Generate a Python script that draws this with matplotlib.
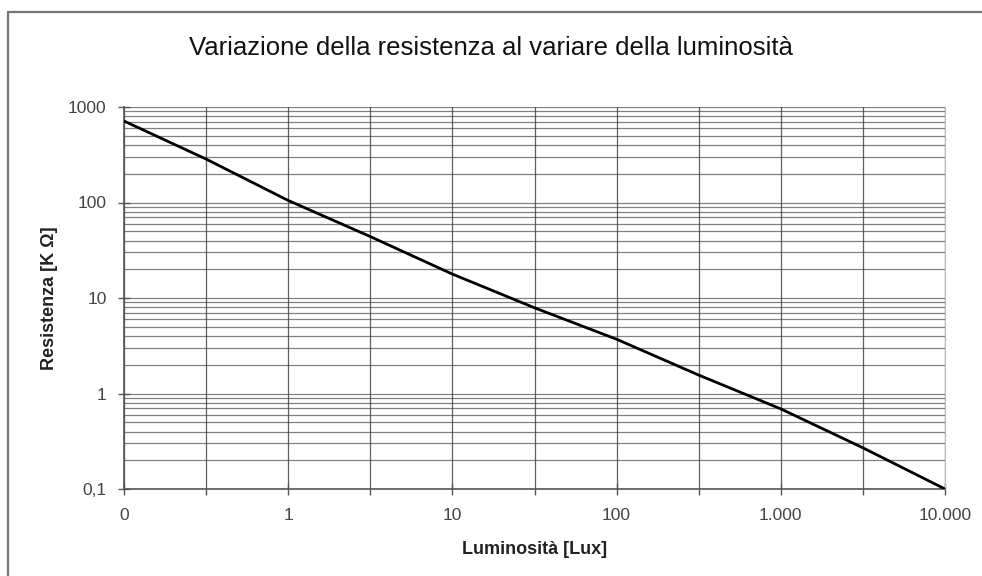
import matplotlib
matplotlib.use("Agg")
import matplotlib.pyplot as plt
from matplotlib.patches import Rectangle
from matplotlib.ticker import FixedLocator, NullFormatter

plt.rcParams["font.family"] = ["Liberation Sans", "DejaVu Sans"]

# luminosity [lux] and resistance [kOhm]
lux = [0.1, 0.316, 1, 3.16, 10, 31.6, 100, 316, 1000, 3162, 10000]
res = [713, 285, 105, 44, 17.8, 7.9, 3.7, 1.56, 0.69, 0.27, 0.1]

x_ticks = [0.1, 1, 10, 100, 1000, 10000]
x_labels = ["0", "1", "10", "100", "1.000", "10.000"]
y_ticks = [0.1, 1, 10, 100, 1000]
y_labels = ["0,1", "1", "10", "100", "1000"]

fig = plt.figure(figsize=(9.82, 5.76), dpi=100)
fig.patches.append(Rectangle((8 / 982, -0.1), 1.2, 1.1 - 12 / 576, transform=fig.transFigure,
                             fill=False, edgecolor="#777777", linewidth=1.6))

ax = fig.add_axes([124 / 982, 1 - 489 / 576, (945 - 124) / 982, (489 - 107) / 576])
ax.set_xscale("log")
ax.set_yscale("log")
ax.set_xlim(0.1, 10000)
ax.set_ylim(0.1, 1000)

# horizontal grid: every 1..9 x 10^k ; vertical grid: every half decade
hgrid = [m * 10.0 ** k for k in range(-1, 3) for m in range(1, 10)] + [1000]
vgrid = [10 ** (e / 2) for e in range(-2, 9)]
for yv in hgrid:
    ax.axhline(yv, color="#555555", lw=0.9, alpha=0.75, zorder=1)
for xv in vgrid:
    ax.axvline(xv, color="#444444", lw=0.9, alpha=0.85, zorder=1)

ax.plot(lux, res, color="black", lw=2.0, zorder=3)

ax.xaxis.set_major_locator(FixedLocator(x_ticks))
ax.xaxis.set_minor_locator(FixedLocator([v for v in vgrid if v not in x_ticks]))
ax.xaxis.set_minor_formatter(NullFormatter())
ax.set_xticklabels(x_labels)
ax.yaxis.set_major_locator(FixedLocator(y_ticks))
ax.yaxis.set_minor_locator(FixedLocator([]))
ax.yaxis.set_minor_formatter(NullFormatter())
ax.set_yticklabels(y_labels)
ax.tick_params(axis="both", which="major", direction="inout", length=9, width=1,
               color="#555555", labelsize=12.5, labelcolor="#444444", pad=8)
ax.tick_params(axis="x", which="major", pad=9)
ax.tick_params(axis="x", which="minor", direction="out", length=4, width=1, color="#555555")

for side in ["left", "bottom"]:
    ax.spines[side].set_color("#555555")
    ax.spines[side].set_linewidth(1.2)
ax.spines["right"].set_color("#bbbbbb")
ax.spines["top"].set_visible(False)

ax.set_xlabel("Luminosità [Lux]", fontsize=13, fontweight="bold", color="#222222", labelpad=13)
ax.set_ylabel("Resistenza [K Ω]", fontsize=13, fontweight="bold", color="#222222", labelpad=7)
fig.text(0.5, 1 - 48 / 576, "Variazione della resistenza al variare della luminosità",
         ha="center", va="center", fontsize=18.5, color="#111111")

fig.savefig("out.png", dpi=100)
